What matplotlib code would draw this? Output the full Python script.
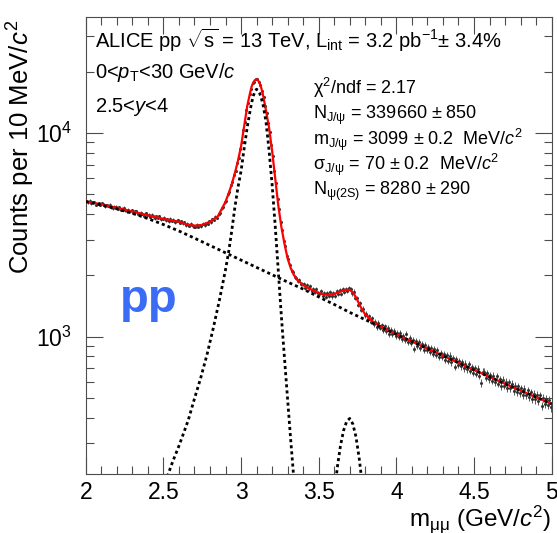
import numpy as np
import matplotlib
matplotlib.use("Agg")
import matplotlib.pyplot as plt
from matplotlib.ticker import MultipleLocator, LogLocator, NullFormatter, FormatStrFormatter

plt.rcParams['font.family'] = ['Liberation Sans', 'DejaVu Sans']
plt.rcParams['mathtext.fontset'] = 'custom'
plt.rcParams['mathtext.rm'] = 'Liberation Sans'
plt.rcParams['mathtext.it'] = 'Liberation Sans:italic'
plt.rcParams['mathtext.bf'] = 'Liberation Sans:bold'

# dimuon invariant mass histogram, 10 MeV bins from 2 to 5 GeV/c^2
mass_lo, mass_hi, bin_width = 2.0, 5.0, 0.01
counts = [
    4652, 4567, 4657, 4517, 4562, 4597, 4452, 4487, 4537, 4442,
    4516, 4454, 4367, 4440, 4378, 4446, 4319, 4277, 4345, 4343,
    4261, 4333, 4200, 4252, 4299, 4176, 4123, 4205, 4137, 4179,
    4067, 4120, 4148, 4026, 3984, 4072, 4020, 3923, 4031, 3939,
    3972, 3871, 3970, 3899, 3813, 3902, 3826, 3905, 3769, 3788,
    3834, 3732, 3775, 3688, 3801, 3699, 3747, 3645, 3708, 3721,
    3629, 3697, 3600, 3638, 3516, 3582, 3500, 3593, 3527, 3463,
    3470, 3542, 3461, 3532, 3485, 3590, 3525, 3610, 3585, 3695,
    3645, 3770, 3750, 3885, 3825, 3985, 4040, 4270, 4355, 4565,
    4660, 4995, 5150, 5530, 5725, 6215, 6530, 7135, 7565, 8330,
    9080, 10350, 11370, 12990, 14090, 15530, 16440, 17580, 17920, 18460,
    18350, 17760, 17280, 16030, 15080, 13540, 12530, 11180, 10170, 8740,
    7720, 6480, 5670, 4730, 4220, 3640, 3340, 2950, 2790, 2500,
    2395, 2260, 2110, 2075, 1960, 1950, 1880, 1890, 1815, 1820,
    1811, 1737, 1788, 1726, 1771, 1671, 1717, 1658, 1709, 1635,
    1625, 1675, 1582, 1632, 1567, 1637, 1580, 1648, 1577, 1634,
    1591, 1667, 1623, 1699, 1625, 1714, 1657, 1719, 1679, 1740,
    1709, 1630, 1665, 1554, 1552, 1438, 1455, 1353, 1373, 1275,
    1298, 1222, 1260, 1185, 1230, 1150, 1186, 1117, 1170, 1108,
    1134, 1075, 1126, 1067, 1103, 1033, 1079, 1025, 1070, 1006,
    1047, 994, 1041, 968, 1010, 957, 1034, 937, 985, 933,
    962, 865, 952, 900, 943, 881, 919, 862, 910, 863,
    889, 837, 875, 818, 866, 815, 858, 796, 834, 793,
    822, 771, 815, 763, 807, 746, 785, 709, 777, 726,
    760, 714, 753, 698, 737, 691, 730, 680, 709, 663,
    702, 657, 697, 642, 592, 672, 672, 627, 662, 617,
    647, 607, 642, 597, 637, 588, 618, 573, 613, 574,
    599, 560, 595, 556, 587, 542, 573, 534, 569, 530,
    556, 517, 553, 514, 545, 506, 532, 493, 525, 491,
    517, 483, 514, 456, 502, 468, 495, 461, 488, 449,
]

# total fit
fit_mass = [2.0, 2.1, 2.2, 2.3, 2.4, 2.5, 2.6, 2.65, 2.7, 2.75, 2.8, 2.85, 2.88,
            2.9, 2.92, 2.94, 2.96, 2.98, 3.0, 3.02, 3.04, 3.06, 3.07, 3.08, 3.09,
            3.1, 3.11, 3.12, 3.13, 3.14, 3.16, 3.18, 3.2, 3.22, 3.24, 3.26, 3.28,
            3.3, 3.32, 3.34, 3.36, 3.4, 3.44, 3.48, 3.52, 3.56, 3.6, 3.64, 3.68,
            3.7, 3.72, 3.74, 3.76, 3.78, 3.8, 3.84, 3.88, 3.92, 4.0, 4.1, 4.2,
            4.3, 4.4, 4.5, 4.6, 4.7, 4.8, 4.9, 5.0]
fit_counts = [4620, 4470, 4300, 4120, 3950, 3790, 3670, 3560, 3510, 3540, 3670,
              3900, 4300, 4600, 5050, 5600, 6350, 7300, 8600, 10800, 13600,
              16000, 17100, 17800, 18250, 18400, 18150, 17600, 16700, 15600,
              13000, 10700, 8200, 6000, 4400, 3450, 2850, 2420, 2170, 2010,
              1910, 1790, 1720, 1665, 1620, 1600, 1620, 1665, 1700, 1695, 1650,
              1560, 1450, 1355, 1285, 1200, 1145, 1100, 1026, 946, 873, 805,
              743, 685, 634, 586, 543, 504, 467]

# background component
bg_mass = [2.0, 2.1, 2.2, 2.3, 2.4, 2.5, 2.6, 2.7, 2.8, 2.9, 3.0, 3.1, 3.2, 3.3,
           3.4, 3.5, 3.6, 3.7, 3.8, 3.9, 4.0, 4.1, 4.2, 4.3, 4.4, 4.5, 4.6,
           4.7, 4.8, 4.9, 5.0]
bg_counts = [4613, 4436, 4246, 4036, 3802, 3556, 3304, 3048, 2805, 2582, 2377,
             2188, 2014, 1854, 1712, 1567, 1439, 1315, 1211, 1114, 1026, 946,
             873, 805, 743, 685, 634, 586, 543, 504, 467]

# J/psi signal component
jpsi_mass = [2.50, 2.53, 2.56, 2.60, 2.63, 2.66, 2.70, 2.74, 2.78, 2.82, 2.86,
             2.90, 2.92, 2.94, 2.96, 2.98, 3.00, 3.02, 3.04, 3.06, 3.07, 3.08,
             3.09, 3.10, 3.11, 3.12, 3.13, 3.14, 3.16, 3.18, 3.20, 3.22, 3.24,
             3.26, 3.28, 3.30, 3.32, 3.34, 3.36]
jpsi_counts = [180, 210, 243, 290, 335, 388, 495, 625, 810, 1090, 1500, 2130,
               2600, 3300, 4300, 5400, 6500, 8400, 10700, 13100, 14300, 15300,
               16050, 16440, 16200, 15700, 14900, 14000, 11500, 8300, 5600,
               3500, 2100, 1250, 780, 490, 310, 200, 130]

# psi(2S) signal component
psi2s_mass = [3.56, 3.58, 3.60, 3.62, 3.64, 3.66, 3.68, 3.70, 3.72, 3.74, 3.76,
              3.78, 3.80, 3.82]
psi2s_counts = [80, 120, 165, 228, 290, 345, 383, 396, 372, 322, 255, 190,
                135, 90]

centers = np.arange(len(counts)) * bin_width + mass_lo + bin_width / 2
counts = np.array(counts, dtype=float)

fig = plt.figure(figsize=(5.57, 5.33), dpi=100)
ax = fig.add_axes([0.1539, 0.1113, 0.8365, 0.8563])

ax.errorbar(centers, counts, yerr=np.sqrt(counts), fmt='o', ms=1.2,
            color='0.2', ecolor='0.35', elinewidth=0.7, capsize=0, zorder=2)
ax.plot(fit_mass, fit_counts, color='red', lw=1.6, zorder=3)
dots = dict(color='black', lw=2.0, linestyle=(0, (1.1, 1.1)), zorder=4)
ax.plot(bg_mass, bg_counts, **dots)
ax.plot(jpsi_mass, jpsi_counts, **dots)
ax.plot(psi2s_mass, psi2s_counts, **dots)

ax.set_yscale('log')
ax.set_xlim(mass_lo, mass_hi)
ax.set_ylim(212, 37100)

ax.xaxis.set_major_locator(MultipleLocator(0.5))
ax.xaxis.set_minor_locator(MultipleLocator(0.1))
ax.xaxis.set_major_formatter(FormatStrFormatter('%g'))
ax.yaxis.set_major_locator(LogLocator(base=10))
ax.yaxis.set_minor_locator(LogLocator(base=10, subs=np.arange(2, 10)))
ax.yaxis.set_minor_formatter(NullFormatter())
ax.tick_params(which='both', direction='in', top=True, right=True,
               labelsize=16.5, width=0.8, color='0.3')
ax.tick_params(axis='x', which='major', length=12, pad=5)
ax.tick_params(axis='x', which='minor', length=6)
ax.tick_params(axis='y', which='major', length=12, pad=10)
ax.tick_params(axis='y', which='minor', length=6)
for s in ax.spines.values():
    s.set_linewidth(0.8)
    s.set_color('0.3')

fig.text(0.038, 0.962, r'Counts per 10 MeV/$c^2$', rotation=90,
         ha='center', va='top', fontsize=18.5)
fig.text(0.991, 0.014, r'm$_{\rm μμ}$ (GeV/$c^2$)', ha='right',
         va='baseline', fontsize=17.5)

ax.text(0.019, 0.932, r'ALICE pp $\sqrt{\rm s}$ = 13 TeV, L$_{\rm int}$ = 3.2 pb$^{-1}$$\pm$ 3.4%',
        transform=ax.transAxes, fontsize=14.5, va='baseline')
ax.text(0.019, 0.868, r'0<$p_{\rm T}$<30 GeV/$c$', transform=ax.transAxes,
        fontsize=14.5, va='baseline')
ax.text(0.019, 0.792, r'2.5<$y$<4', transform=ax.transAxes,
        fontsize=14.5, va='baseline')

fit_lines = [
    r'χ$^2$/ndf = 2.17',
    r'N$_{\rm J/ψ}$ = 339660 ± 850',
    r'm$_{\rm J/ψ}$ = 3099 ± 0.2  MeV/$c^2$',
    r'σ$_{\rm J/ψ}$ = 70 ± 0.2  MeV/$c^2$',
    r'N$_{\rm ψ(2S)}$ = 8280 ± 290',
]
for i, line in enumerate(fit_lines):
    ax.text(0.488, 0.832 - i * 0.0555, line, transform=ax.transAxes,
            fontsize=13, va='baseline')

ax.text(0.135, 0.355, 'pp', transform=ax.transAxes, fontsize=34,
        fontweight='bold', color='#3b6cf6', ha='center', va='baseline')

fig.savefig('out.png', dpi=100)
